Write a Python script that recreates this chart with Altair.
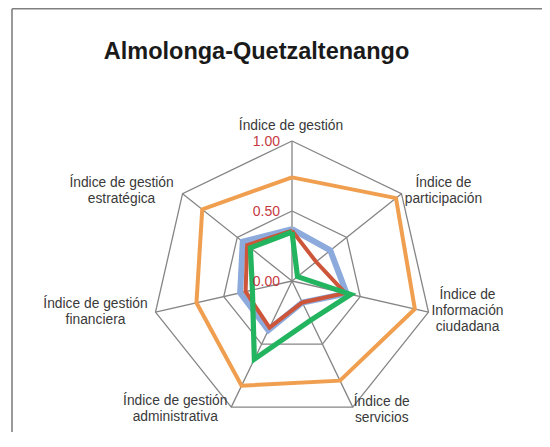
import math
import altair as alt
import pandas as pd

# ---------------- data ----------------
categories = [
    "Índice de gestión",
    "Índice de participación",
    "Índice de Información ciudadana",
    "Índice de servicios",
    "Índice de gestión administrativa",
    "Índice de gestión financiera",
    "Índice de gestión estratégica",
]
label_text = [
    "Índice de gestión",
    "Índice de\nparticipación",
    "Índice de\nInformación\nciudadana",
    "Índice de\nservicios",
    "Índice de gestión\nadministrativa",
    "Índice de gestión\nfinanciera",
    "Índice de gestión\nestratégica",
]
series_names = ["Serie naranja", "Serie azul", "Serie roja", "Serie verde"]
orange_vals = [0.74, 0.95, 0.90, 0.79, 0.83, 0.70, 0.82]
blue_vals = [0.37, 0.35, 0.40, 0.17, 0.39, 0.38, 0.45]
red_vals = [0.36, 0.22, 0.39, 0.17, 0.37, 0.34, 0.41]
green_vals = [0.35, 0.05, 0.43, 0.31, 0.62, 0.29, 0.38]
grid_levels = [0.5, 1.0]
tick_values = [0.0, 0.5, 1.0]
tick_labels = ["0.00", "0.50", "1.00"]
title_text = "Almolonga-Quetzaltenango"

# ---------------- layout / style ----------------
W, H = 534, 424
UNIT = 140.0          # pixels per 1.0
CX, CY = 284.0, 273.0  # centre in view pixels
XDOM = [-CX / UNIT, (W - CX) / UNIT]
YDOM = [-(H - CY) / UNIT, CY / UNIT]
N = len(categories)
LH = 16

series_style = {
    "Serie azul": ("#8CAADC", 6.0),
    "Serie roja": ("#CD5539", 4.0),
    "Serie naranja": ("#EF9F4F", 4.0),
    "Serie verde": ("#23B45F", 5.2),
}
draw_order = ["Serie azul", "Serie roja", "Serie naranja", "Serie verde"]
series_values = dict(zip(series_names, [orange_vals, blue_vals, red_vals, green_vals]))

# label block-centre pixel offsets from each outer vertex (layout)
label_offsets = [(-1, -15), (42, -3), (39, -1), (29, 3), (-56, 2), (-60, 0), (-61, -3)]

GRID = "#858585"


def polar(k, r):
    a = 2 * math.pi * k / N
    return r * math.sin(a), r * math.cos(a)


xs = alt.Scale(domain=XDOM, nice=False, zero=False)
ys = alt.Scale(domain=YDOM, nice=False, zero=False)


def X(f="x"):
    return alt.X(f"{f}:Q", scale=xs, axis=None)


def Y(f="y"):
    return alt.Y(f"{f}:Q", scale=ys, axis=None)


layers = []

# frame (top & left edges)
layers.append(alt.Chart(pd.DataFrame({"a": [0]})).mark_rule(color="#808080", strokeWidth=1.6).encode(
    x=alt.value(4), x2=alt.value(W), y=alt.value(0.8), y2=alt.value(0.8)))
layers.append(alt.Chart(pd.DataFrame({"a": [0]})).mark_rule(color="#808080", strokeWidth=1.6).encode(
    x=alt.value(4), x2=alt.value(4), y=alt.value(0.8), y2=alt.value(H)))

# grid rings
rows = []
for lv in grid_levels:
    for i in range(N + 1):
        k = i % N
        x, y = polar(k, lv)
        rows.append({"level": lv, "ord": i, "x": x, "y": y})
ring_df = pd.DataFrame(rows)
layers.append(alt.Chart(ring_df).mark_line(color=GRID, strokeWidth=1.3, strokeJoin="miter").encode(
    x=X(), y=Y(), detail="level:N", order="ord:Q"))

# spokes
spk = []
for k in range(N):
    x, y = polar(k, 1.0)
    spk.append({"x": 0.0, "y": 0.0, "x2": x, "y2": y})
layers.append(alt.Chart(pd.DataFrame(spk)).mark_rule(color=GRID, strokeWidth=1.3).encode(
    x=X(), y=Y(), x2="x2:Q", y2="y2:Q"))

# series
for name in draw_order:
    vals = series_values[name]
    rows = []
    for i in range(N + 1):
        k = i % N
        x, y = polar(k, vals[k])
        rows.append({"serie": name, "categoria": categories[k], "valor": vals[k], "ord": i, "x": x, "y": y})
    col, sw = series_style[name]
    layers.append(alt.Chart(pd.DataFrame(rows)).mark_line(
        color=col, strokeWidth=sw, strokeJoin="miter", strokeMiterLimit=10).encode(
        x=X(), y=Y(), order="ord:Q"))

# value tick labels
tick_df = pd.DataFrame({"x": [0.0] * len(tick_values), "y": tick_values, "t": tick_labels})
layers.append(alt.Chart(tick_df).mark_text(
    align="right", baseline="middle", dx=-12, dy=1, fontSize=14, font="Liberation Sans", color="#C53A3F").encode(
    x=X(), y=Y(), text="t:N"))

# category labels
for k in range(N):
    x, y = polar(k, 1.0)
    dx, dy = label_offsets[k]
    nlines = label_text[k].count("\n") + 1
    dy_first = dy - (nlines - 1) * LH / 2
    d = pd.DataFrame({"x": [x], "y": [y], "t": [label_text[k]]})
    layers.append(alt.Chart(d).mark_text(
        align="center", baseline="middle", dx=dx, dy=dy_first, lineBreak="\n", lineHeight=LH,
        fontSize=13.8, font="Liberation Sans", color="#3a3a3a").encode(
        x=X(), y=Y(), text="t:N"))

# title
layers.append(alt.Chart(pd.DataFrame({"t": [title_text]})).mark_text(
    align="center", baseline="alphabetic", fontSize=23.5, fontWeight="bold",
    font="Liberation Sans", color="#1a1a1a").encode(
    x=alt.value(248.5), y=alt.value(50.5), text="t:N"))

chart = alt.layer(*layers).properties(
    width=W, height=H, padding=0,
    autosize=alt.AutoSizeParams(type="none"),
).configure_view(stroke=None)

chart.save("out.html", embed_options={"renderer": "svg", "actions": False})
